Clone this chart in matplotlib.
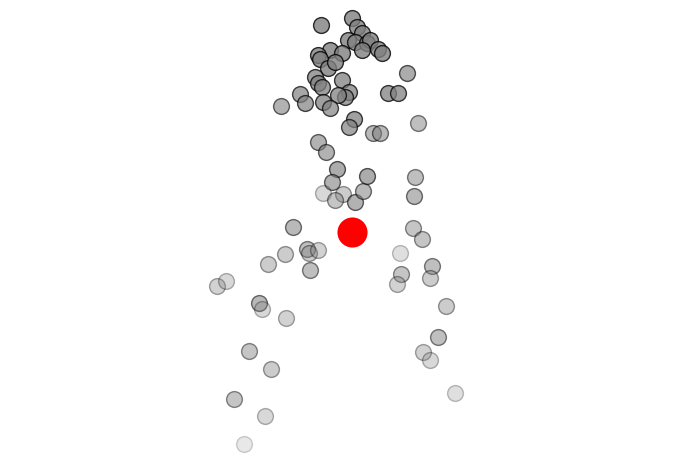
import matplotlib
matplotlib.use("Agg")
import matplotlib.pyplot as plt

# point positions (screen-like coords, y grows downward) and opacity
xs = [320.7, 352, 356.7, 362, 348, 355, 366.7, 370, 361.7, 378, 381.7,
      330, 341.7, 318, 320, 328, 335, 315, 318, 321.7, 341.7, 349, 345,
      338, 323, 330, 300, 305, 280.7, 407, 388, 398, 417.7, 354, 349,
      373, 380, 317.7, 326,
      337, 331.7, 323, 343, 335, 355, 362.7, 366.7, 415, 414,
      292.7, 412.7, 422, 285, 307, 308.5, 318, 268, 310, 400, 401, 397,
      432, 430, 216.7, 226, 259.3, 262.3, 285.7, 446, 437.7, 422.7, 430,
      249.3, 271.3, 234.3, 264.7, 455.3, 243.7]
ys = [25.3, 18, 27, 33, 40, 42, 43, 40, 50, 49, 53,
      50, 53, 55, 59, 68, 62, 77, 83, 87, 80, 92, 97,
      95, 102, 108, 94, 103, 106, 73, 93, 93, 123, 119, 127,
      133, 133, 142, 152,
      169, 181.7, 193, 194, 200, 201.7, 190.7, 175.7, 176.7, 195.7,
      226.7, 227.7, 239, 254, 249, 252.7, 250, 264, 270, 252.7, 274, 284,
      266, 278, 286, 281, 302.7, 309.3, 317.7, 305.7, 337.3, 352, 360,
      351.3, 369.3, 398.7, 415.7, 392.7, 444.3]
alphas = [0.8, 0.8, 0.8, 0.8, 0.8, 0.8, 0.8, 0.8, 0.8, 0.8, 0.8,
          0.8, 0.8, 0.8, 0.8, 0.8, 0.8, 0.75, 0.75, 0.75, 0.75, 0.75, 0.75,
          0.75, 0.75, 0.7, 0.7, 0.7, 0.6, 0.65, 0.75, 0.75, 0.5, 0.75, 0.7,
          0.55, 0.55, 0.6, 0.6,
          0.65, 0.6, 0.3, 0.4, 0.45, 0.6, 0.55, 0.65, 0.5, 0.55,
          0.55, 0.45, 0.45, 0.4, 0.5, 0.4, 0.35, 0.4, 0.5, 0.25, 0.45, 0.35,
          0.5, 0.4, 0.35, 0.3, 0.55, 0.3, 0.35, 0.4, 0.5, 0.35, 0.3,
          0.45, 0.4, 0.45, 0.3, 0.25, 0.18]

center_x = [351.7]
center_y = [231.7]

fig = plt.figure(figsize=(6.9, 4.72), dpi=100)
ax = fig.add_axes([0, 0, 1, 1])

for x, y, a in zip(xs, ys, alphas):
    ax.scatter(x, y, s=130, c='gray', edgecolors='black', linewidths=1, alpha=a)

ax.scatter(center_x, center_y, s=470, c='red', linewidths=0, zorder=5)

ax.set_xlim(0, 690)
ax.set_ylim(472, 0)
ax.axis('off')

fig.savefig("out.png", dpi=100)
